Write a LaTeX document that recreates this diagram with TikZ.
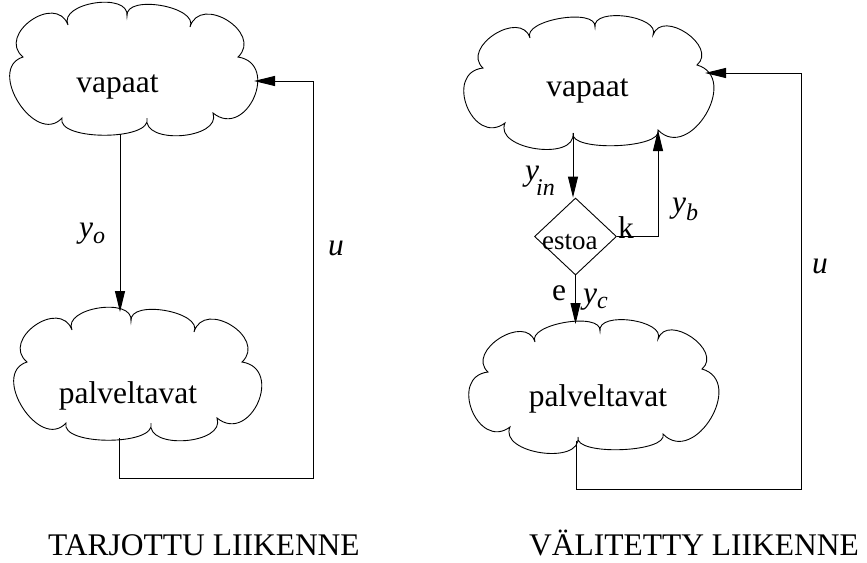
\documentclass[tikz,border=0pt]{standalone}
\usepackage{fontspec}
\setmainfont{Liberation Serif}
\usetikzlibrary{calc,arrows.meta,shapes.geometric}
% lowered, smaller italic index of a flow variable
\newcommand\sbs[2]{\raisebox{-#1}{\fontsize{24}{24}\selectfont\itshape #2}}
\begin{document}
\begin{tikzpicture}[x=1pt,y=-1pt,
  outline/.style={line width=0.9pt},
  conn/.style={line width=0.9pt},
  arr/.style={conn,-{Triangle[length=21pt,width=10pt]}},
  bump/.style={to path={.. controls ($(\tikztostart)!#1!105:(\tikztotarget)$)
      and ($(\tikztotarget)!#1!-105:(\tikztostart)$) .. (\tikztotarget)}},
  lbl/.style={inner sep=0pt,font=\fontsize{31.5}{36}\selectfont},
  cloudleft/.pic={
    \draw[outline] (23,57) to[bump=0.63] (68,25) to[bump=0.41] (127,16)
      to[bump=0.35] (190,27) to[bump=0.62] (238,57) to[bump=0.70] (213,113)
      to[bump=0.42] (147,118) to[bump=0.28] (62,118) to[bump=0.54] (23,57) -- cycle;
  },
  cloudright/.pic={
    \draw[outline] (483,68) to[bump=0.55] (530,38) to[bump=0.30] (595,27)
      to[bump=0.35] (653,35) to[bump=0.53] (697,65) to[bump=0.60] (658,130)
      to[bump=0.23] (573,133) to[bump=0.42] (505,123) to[bump=0.68] (483,68) -- cycle;
  }]
\useasboundingbox (0,0) rectangle (867,562);

% clouds
\pic at (0,0) {cloudleft};
\pic at (4,305) {cloudleft};
\pic at (0,0) {cloudright};
\pic at (5,304) {cloudright};

% cloud texts and titles
\node[lbl,anchor=base] (vapA) at (117.5,92) {vapaat};
\node[lbl,anchor=base] (palC) at (128,403) {palveltavat};
\node[lbl,anchor=base] (vapB) at (587.5,96) {vapaat};
\node[lbl,anchor=base] (palD) at (598,406) {palveltavat};
\node[lbl,anchor=base] (ttl1) at (204,555) {TARJOTTU LIIKENNE};
\node[lbl,anchor=base] (ttl2) at (694,555) {VÄLITETTY LIIKENNE};

% blocking decision
\node[diamond,draw,line width=0.9pt,minimum width=82pt,minimum height=77pt,
      inner sep=0pt] (estoa) at (575.5,236.5) {};
\node[inner sep=0pt,anchor=base west,font=\fontsize{27}{30}\selectfont] (esT) at (542,249) {estoa};

% flow labels
\node[lbl,anchor=base west] (yo) at (79,237) {\itshape y\sbs{6pt}{o}};
\node[lbl,anchor=base west] (uL) at (328,255) {\itshape u};
\node[lbl,anchor=base west] (yin) at (525,180) {\itshape y\hspace{-3pt}\sbs{15pt}{in}};
\node[lbl,anchor=base west] (kk) at (618,238) {k};
\node[lbl,anchor=base west] (yb) at (672,212) {\itshape y\sbs{8pt}{b}};
\node[lbl,anchor=base west] (ee) at (552,300) {e};
\node[lbl,anchor=base west] (yc) at (583,303) {\itshape y\sbs{5pt}{c}};
\node[lbl,anchor=base west] (uR) at (812,273) {\itshape u};

% connector end points on the cloud outlines
\coordinate (Aout) at (120,134);
\coordinate (Ain)  at (254,81);
\coordinate (Cin)  at (120,312);
\coordinate (Cout) at (119,438);
\coordinate (LB)   at (313,478);
\coordinate (Bout) at (573,133);
\coordinate (Bret) at (658,130);
\coordinate (Bin)  at (705,73);
\coordinate (Din)  at (576,324);
\coordinate (Dout) at (576,441);
\coordinate (RB)   at (801,489);

% offered traffic
\draw[arr] (Aout) -- (Cin);
\draw[arr] (Cout) |- (LB) |- (Ain);

% carried traffic
\draw[arr] (Bout) -- (Bout |- estoa.north);
\draw[arr] (estoa.east) -| (Bret);
\draw[arr] (estoa.south) -- (estoa.south |- Din);
\draw[arr] (Dout) |- (RB) |- (Bin);
\end{tikzpicture}
\end{document}
